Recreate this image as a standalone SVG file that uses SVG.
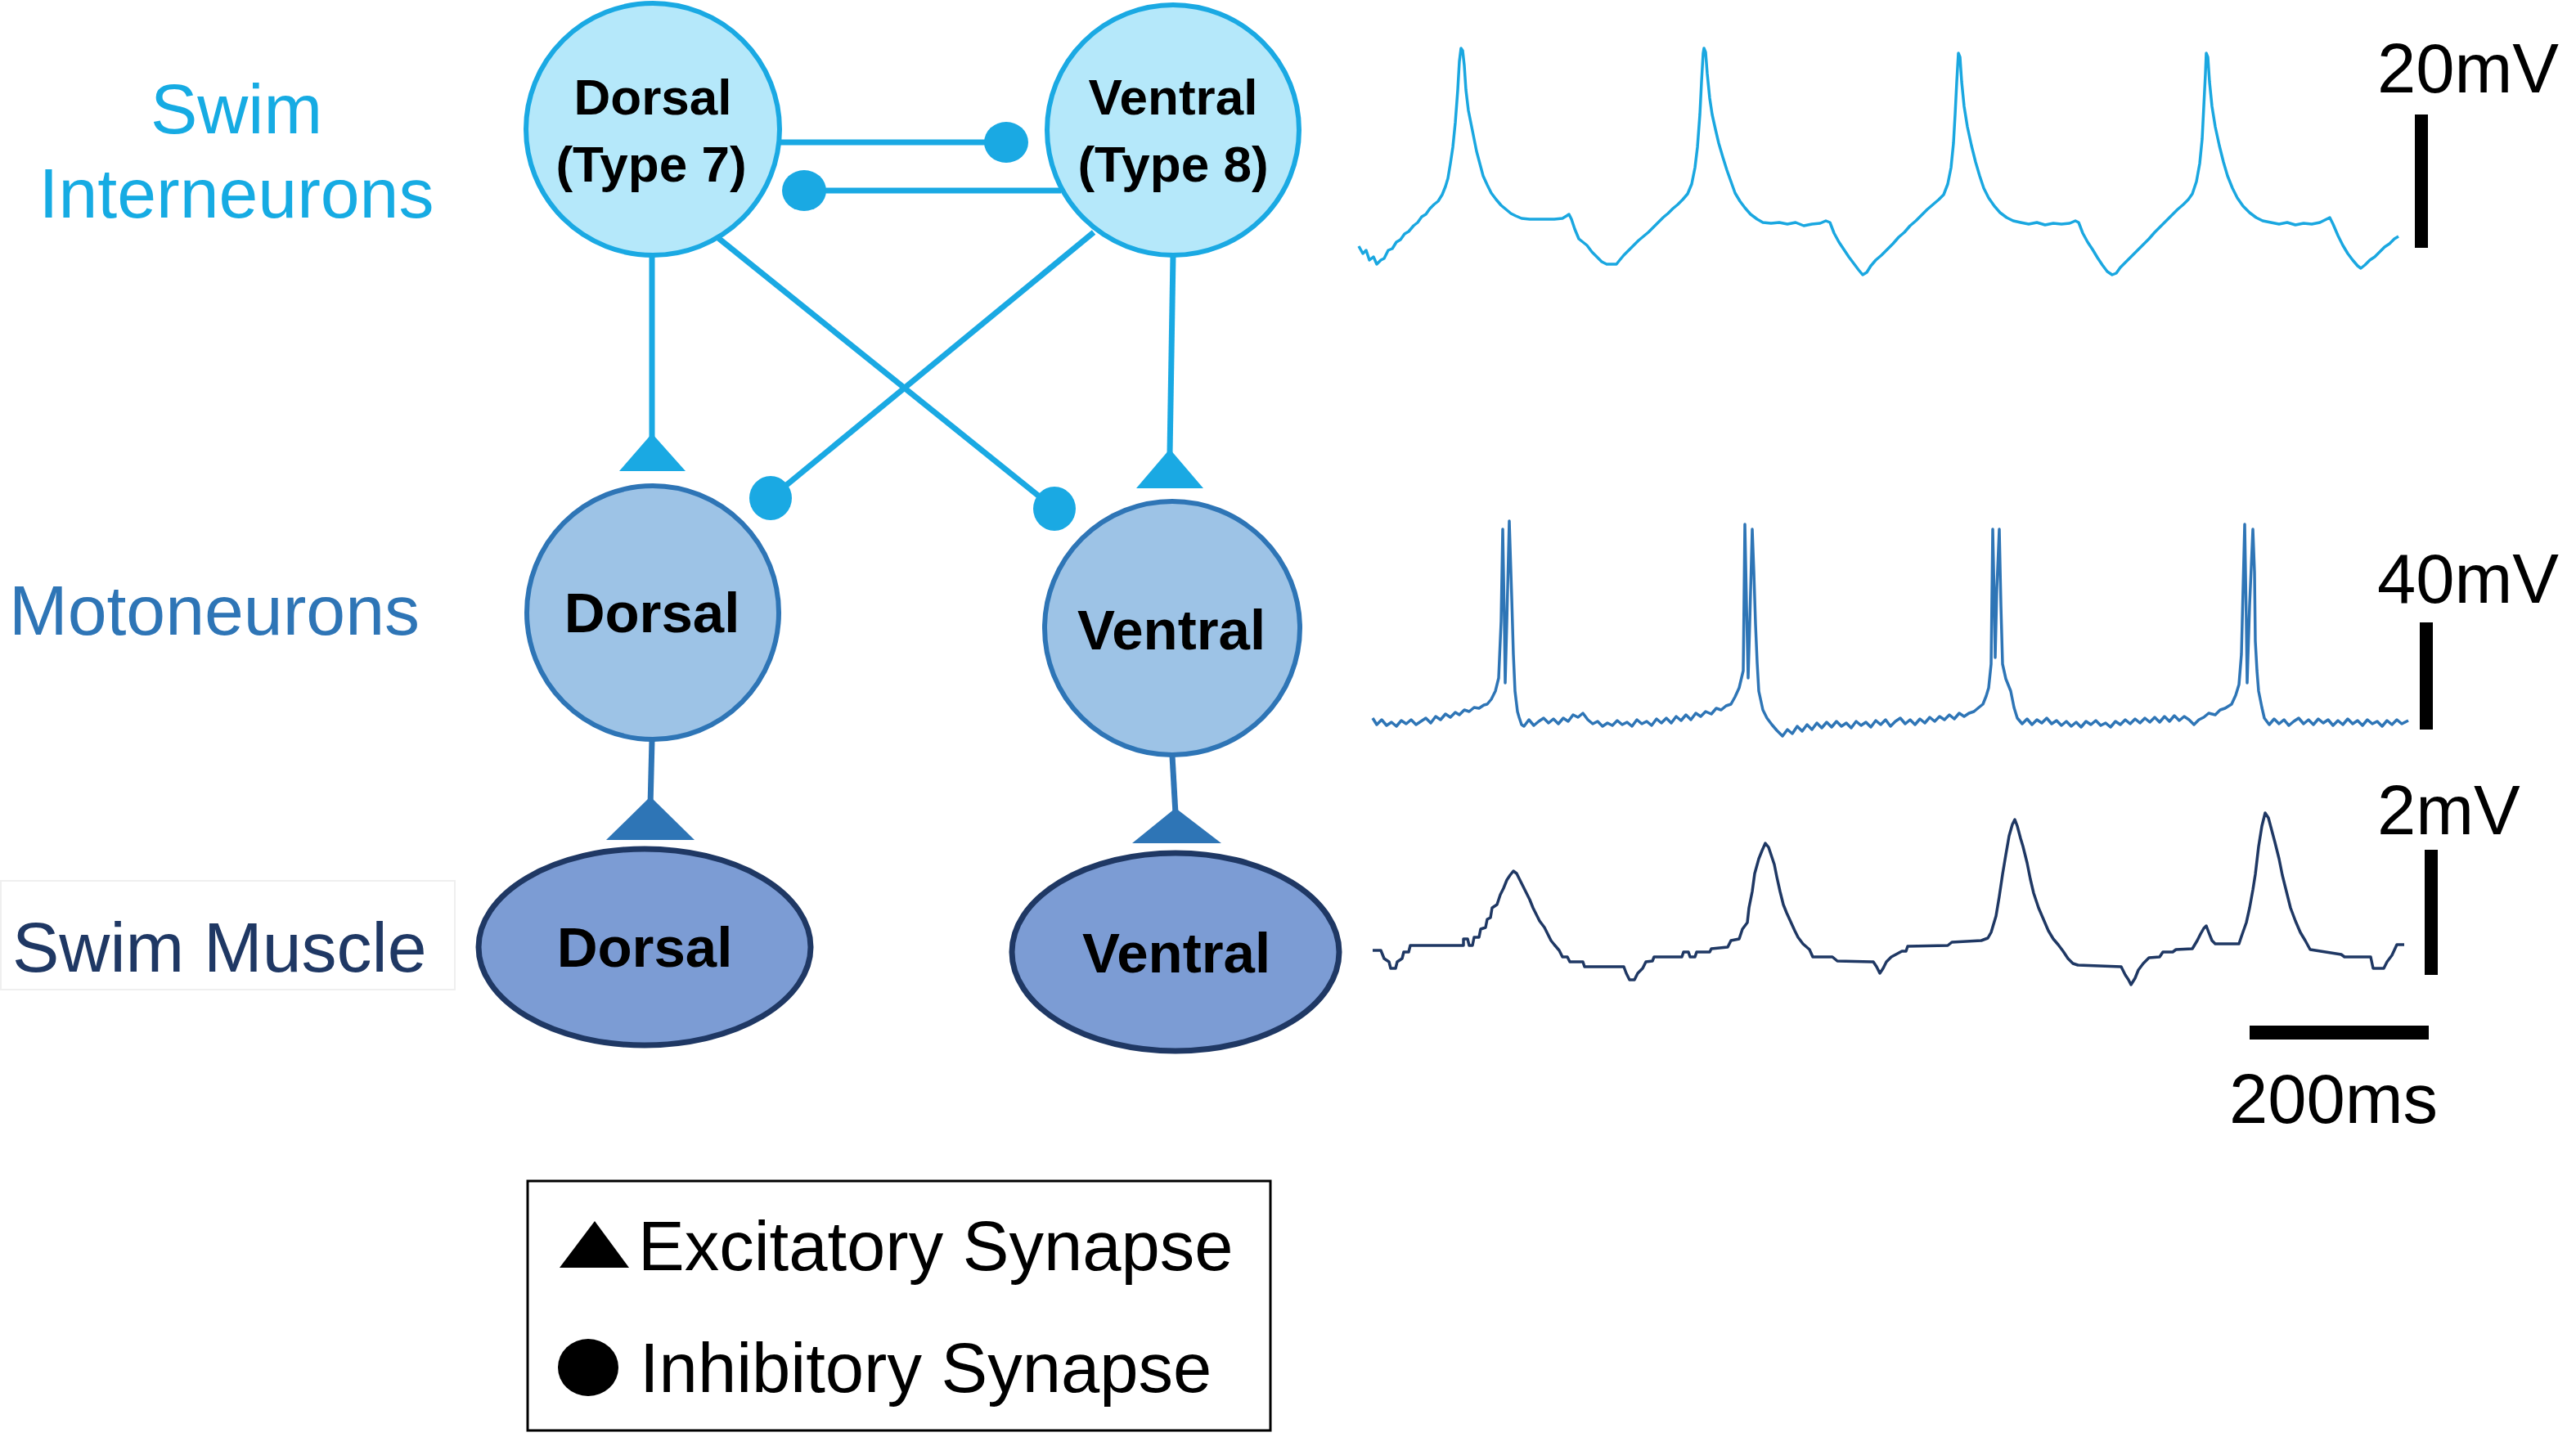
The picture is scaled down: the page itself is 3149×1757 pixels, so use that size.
<svg xmlns="http://www.w3.org/2000/svg" width="3149" height="1757" viewBox="0 0 3149 1757">
<style>
.lbl{font-family:"Liberation Sans",Arial,sans-serif;font-size:86px}
.nt{font-family:"Liberation Sans",Arial,sans-serif;font-weight:bold;fill:#000;text-anchor:middle}
.sc{font-family:"Liberation Sans",Arial,sans-serif;font-size:85px;fill:#000}
.inter{fill:#b5e8fa;stroke:#1aa9e3;stroke-width:6}
.moto{fill:#9dc3e6;stroke:#2e75b6;stroke-width:6}
.musc{fill:#7c9cd4;stroke:#1f3864;stroke-width:7}
.c1{stroke:#1aa9e3;stroke-width:7;fill:none}
.c2{stroke:#2e75b6;stroke-width:7;fill:none}
.s1{fill:#1aa9e3}
.s2{fill:#2e75b6}
.tr{fill:none;stroke-width:3.5;stroke-linejoin:round}
</style>
<rect width="3149" height="1757" fill="#fff"/>

<g id="labels">
<text class="lbl" x="289" y="163" text-anchor="middle" fill="#16abe3">Swim</text>
<text class="lbl" x="289" y="266" text-anchor="middle" fill="#16abe3">Interneurons</text>
<text class="lbl" x="11" y="776" fill="#2e75b6">Motoneurons</text>
<rect x="1" y="1077" width="555" height="133" fill="#fff" stroke="#efefef" stroke-width="2"/>
<text class="lbl" x="15" y="1188" fill="#1f3864">Swim Muscle</text>
</g>

<g id="connectors">
<line class="c1" x1="952" y1="174" x2="1230" y2="174"/>
<ellipse class="s1" cx="1230" cy="174" rx="27" ry="25"/>
<line class="c1" x1="983" y1="233" x2="1297" y2="233"/>
<ellipse class="s1" cx="983" cy="233" rx="27" ry="25"/>
<line class="c1" x1="797" y1="312" x2="797" y2="540"/>
<polygon class="s1" points="797,530 757,576 838,576"/>
<line class="c1" x1="1434" y1="312" x2="1430" y2="555"/>
<polygon class="s1" points="1430,549 1389,597 1471,597"/>
<line class="c1" x1="878" y1="291" x2="1289" y2="622"/>
<ellipse class="s1" cx="1289" cy="622" rx="26" ry="27"/>
<line class="c1" x1="1337" y1="284" x2="942" y2="609"/>
<ellipse class="s1" cx="942" cy="609" rx="26" ry="27"/>
<line class="c2" x1="797" y1="905" x2="795" y2="985"/>
<polygon class="s2" points="795,974 741,1027 849,1027"/>
<line class="c2" x1="1433" y1="924" x2="1437" y2="995"/>
<polygon class="s2" points="1437,988 1384,1031 1493,1031"/>
</g>

<g id="int-dorsal">
<ellipse class="inter" cx="798" cy="158" rx="155" ry="154"/>
<text class="nt" x="798" y="140" font-size="62">Dorsal</text>
<text class="nt" x="796" y="222" font-size="62">(Type 7)</text>
</g>
<g id="int-ventral">
<ellipse class="inter" cx="1434" cy="159" rx="154" ry="153"/>
<text class="nt" x="1434" y="140" font-size="62">Ventral</text>
<text class="nt" x="1434" y="222" font-size="62">(Type 8)</text>
</g>
<g id="moto-dorsal">
<ellipse class="moto" cx="798" cy="749" rx="154" ry="155"/>
<text class="nt" x="797" y="773" font-size="69">Dorsal</text>
</g>
<g id="moto-ventral">
<ellipse class="moto" cx="1433" cy="768" rx="156" ry="155"/>
<text class="nt" x="1432" y="794" font-size="69">Ventral</text>
</g>
<g id="muscle-dorsal">
<ellipse class="musc" cx="788" cy="1158" rx="203" ry="120"/>
<text class="nt" x="788" y="1182" font-size="69">Dorsal</text>
</g>
<g id="muscle-ventral">
<ellipse class="musc" cx="1437" cy="1164" rx="200" ry="121"/>
<text class="nt" x="1438" y="1189" font-size="69">Ventral</text>
</g>

<g id="traces">
<path class="tr" stroke="#1aa7e0" d="M1661,301 L1666,310 L1670,306 L1674,318 L1679,314 L1683,323 L1688,318 L1692,316 L1697,306 L1702,304 L1707,296 L1712,293 L1717,286 L1722,283 L1728,276 L1733,272 L1738,265 L1743,262 L1748,255 L1753,250 L1758,246 L1763,238 L1767,228 L1770,218 L1773,200 L1776,180 L1779,150 L1782,110 L1784,75 L1786,59 L1788,62 L1790,80 L1792,110 L1795,135 L1798,150 L1801,165 L1805,185 L1809,200 L1813,215 L1818,226 L1823,236 L1829,244 L1835,251 L1841,256 L1847,261 L1853,264 L1860,267 L1870,268 L1880,268 L1890,268 L1900,268 L1910,267 L1915,264 L1918,262 L1921,268 L1925,280 L1930,292 L1935,296 L1940,300 L1946,308 L1952,314 L1958,320 L1964,323 L1970,323 L1976,323 L1980,318 L1985,312 L1991,306 L1997,300 L2003,294 L2009,289 L2015,284 L2021,278 L2027,272 L2033,266 L2039,261 L2045,255 L2051,250 L2057,244 L2063,237 L2068,225 L2072,205 L2075,180 L2078,140 L2080,100 L2082,65 L2083,59 L2085,64 L2087,90 L2090,120 L2093,140 L2097,158 L2101,175 L2106,192 L2111,208 L2116,222 L2121,236 L2127,246 L2133,254 L2140,262 L2148,268 L2155,272 L2165,273 L2175,272 L2185,274 L2195,272 L2205,276 L2215,274 L2225,273 L2232,270 L2237,272 L2242,285 L2248,296 L2254,305 L2260,314 L2266,322 L2272,330 L2277,336 L2282,333 L2287,325 L2293,318 L2300,312 L2307,305 L2314,298 L2321,290 L2328,284 L2335,276 L2342,270 L2349,263 L2356,256 L2363,250 L2370,244 L2376,238 L2381,225 L2385,205 L2388,175 L2390,140 L2392,100 L2394,65 L2396,70 L2398,100 L2401,130 L2405,155 L2410,178 L2415,198 L2420,215 L2425,230 L2431,242 L2438,252 L2445,260 L2453,266 L2461,270 L2470,272 L2480,274 L2490,272 L2500,275 L2510,273 L2520,274 L2530,273 L2537,270 L2541,272 L2546,285 L2552,296 L2558,305 L2564,315 L2570,324 L2576,332 L2582,336 L2587,334 L2592,327 L2599,320 L2606,313 L2613,306 L2620,299 L2627,292 L2634,284 L2641,277 L2648,270 L2655,263 L2662,256 L2669,250 L2675,244 L2680,237 L2685,222 L2689,200 L2692,170 L2694,130 L2696,90 L2697,65 L2699,70 L2701,100 L2704,130 L2708,155 L2713,178 L2718,198 L2723,215 L2729,230 L2735,242 L2742,252 L2750,260 L2758,266 L2766,270 L2776,272 L2786,274 L2796,272 L2806,275 L2816,273 L2826,274 L2836,272 L2844,268 L2848,266 L2852,274 L2858,288 L2864,300 L2870,310 L2876,318 L2882,325 L2886,328 L2891,324 L2897,318 L2903,314 L2909,308 L2915,302 L2921,298 L2927,292 L2932,289"/>
<path class="tr" stroke="#2e75b6" d="M1678,878 L1683,886 L1689,880 L1695,887 L1701,883 L1707,888 L1713,881 L1719,885 L1725,880 L1731,886 L1737,882 L1743,878 L1749,884 L1755,876 L1761,880 L1767,873 L1773,877 L1779,871 L1784,874 L1790,868 L1796,870 L1802,865 L1808,866 L1814,862 L1818,861 L1823,855 L1828,845 L1832,829 L1835,760 L1837,647 L1839,760 L1840,835 L1842,760 L1845,637 L1847,700 L1848,731 L1850,800 L1852,845 L1855,870 L1857,877 L1860,886 L1863,888 L1869,880 L1875,887 L1881,882 L1887,878 L1893,884 L1899,879 L1905,885 L1911,878 L1917,882 L1923,874 L1929,877 L1935,872 L1941,880 L1947,885 L1953,882 L1959,888 L1965,884 L1971,887 L1977,881 L1983,886 L1989,883 L1995,888 L2001,880 L2007,885 L2013,882 L2019,887 L2025,879 L2031,884 L2037,878 L2043,884 L2049,876 L2055,881 L2061,874 L2067,880 L2073,872 L2079,876 L2085,870 L2092,873 L2098,866 L2104,868 L2110,863 L2116,861 L2121,852 L2126,841 L2131,820 L2133,641 L2135,740 L2137,829 L2139,760 L2142,647 L2144,700 L2146,763 L2148,810 L2150,845 L2155,868 L2160,878 L2166,886 L2172,893 L2179,900 L2185,892 L2191,897 L2197,888 L2203,894 L2209,886 L2215,892 L2221,884 L2227,890 L2233,883 L2239,889 L2245,882 L2251,888 L2257,884 L2263,890 L2269,882 L2275,887 L2281,883 L2287,889 L2293,881 L2299,886 L2305,880 L2311,888 L2317,882 L2323,878 L2329,885 L2335,880 L2341,886 L2347,879 L2353,884 L2359,877 L2365,882 L2371,876 L2377,880 L2383,874 L2389,879 L2395,872 L2401,876 L2407,872 L2413,870 L2419,865 L2424,861 L2428,851 L2431,841 L2434,812 L2436,647 L2438,740 L2439,804 L2441,720 L2444,647 L2446,740 L2448,812 L2452,830 L2458,845 L2462,865 L2466,878 L2472,885 L2478,879 L2484,886 L2490,880 L2496,884 L2502,878 L2508,885 L2514,881 L2520,887 L2526,882 L2532,888 L2538,883 L2544,889 L2550,882 L2556,886 L2562,881 L2568,887 L2574,884 L2580,889 L2586,882 L2592,886 L2598,880 L2604,885 L2610,879 L2616,884 L2622,878 L2628,883 L2634,877 L2640,883 L2646,876 L2652,882 L2658,875 L2664,881 L2670,876 L2676,880 L2682,886 L2688,880 L2694,877 L2700,872 L2708,874 L2714,868 L2720,866 L2728,861 L2733,850 L2737,837 L2740,800 L2744,641 L2746,760 L2747,835 L2750,740 L2754,647 L2756,700 L2757,784 L2759,820 L2761,845 L2765,865 L2768,878 L2774,886 L2780,879 L2786,885 L2792,880 L2798,887 L2804,882 L2810,878 L2816,885 L2822,880 L2828,886 L2834,879 L2840,884 L2846,880 L2852,887 L2858,881 L2864,886 L2870,879 L2876,885 L2882,881 L2888,887 L2894,880 L2900,885 L2906,882 L2912,888 L2918,881 L2924,886 L2930,880 L2936,885 L2944,881"/>
<path class="tr" stroke="#1f3864" d="M1678,1162 L1688,1162 L1692,1172 L1698,1176 L1700,1184 L1706,1184 L1708,1176 L1714,1172 L1716,1164 L1722,1164 L1724,1156 L1789,1156 L1789,1148 L1794,1148 L1796,1156 L1800,1156 L1802,1146 L1808,1146 L1810,1136 L1816,1134 L1818,1124 L1822,1122 L1824,1110 L1830,1106 L1834,1094 L1838,1086 L1842,1076 L1846,1070 L1850,1065 L1854,1068 L1858,1076 L1862,1084 L1866,1092 L1870,1100 L1874,1110 L1878,1118 L1882,1126 L1888,1134 L1892,1142 L1896,1150 L1900,1155 L1906,1162 L1910,1170 L1916,1170 L1919,1176 L1935,1176 L1937,1182 L1985,1182 L1988,1190 L1992,1198 L1998,1198 L2002,1190 L2008,1184 L2012,1176 L2020,1175 L2022,1170 L2056,1170 L2058,1164 L2064,1164 L2066,1170 L2072,1170 L2074,1164 L2090,1164 L2092,1160 L2112,1158 L2116,1150 L2126,1148 L2130,1136 L2136,1128 L2138,1110 L2142,1090 L2145,1068 L2150,1050 L2154,1040 L2158,1031 L2162,1036 L2166,1048 L2169,1057 L2172,1072 L2176,1090 L2180,1106 L2184,1116 L2189,1127 L2194,1138 L2198,1146 L2204,1154 L2212,1161 L2216,1170 L2240,1170 L2246,1175 L2290,1176 L2294,1182 L2298,1190 L2302,1184 L2306,1176 L2312,1170 L2325,1163 L2330,1163 L2332,1157 L2381,1156 L2386,1152 L2422,1150 L2430,1147 L2434,1140 L2440,1120 L2444,1096 L2448,1069 L2452,1045 L2456,1022 L2460,1008 L2463,1002 L2466,1010 L2470,1025 L2473,1035 L2478,1055 L2482,1075 L2486,1092 L2492,1110 L2498,1124 L2504,1138 L2510,1148 L2516,1155 L2522,1163 L2528,1172 L2534,1178 L2540,1180 L2593,1182 L2598,1192 L2602,1198 L2605,1204 L2610,1196 L2614,1186 L2620,1178 L2627,1171 L2640,1170 L2644,1164 L2656,1164 L2660,1161 L2680,1160 L2686,1150 L2690,1142 L2694,1135 L2697,1132 L2700,1140 L2704,1150 L2708,1154 L2737,1154 L2740,1145 L2746,1128 L2750,1110 L2754,1088 L2757,1069 L2761,1035 L2765,1010 L2769,994 L2773,1000 L2777,1015 L2781,1030 L2786,1050 L2790,1070 L2795,1090 L2800,1110 L2806,1126 L2812,1140 L2818,1150 L2824,1161 L2862,1167 L2866,1170 L2898,1170 L2901,1184 L2914,1184 L2918,1176 L2924,1168 L2930,1155 L2939,1155"/>
</g>

<g id="scalebars">
<rect x="2952" y="140" width="16" height="163" fill="#000"/>
<text class="sc" x="2906" y="113">20mV</text>
<rect x="2958" y="761" width="16" height="131" fill="#000"/>
<text class="sc" x="2906" y="737">40mV</text>
<rect x="2964" y="1039" width="16" height="153" fill="#000"/>
<text class="sc" x="2906" y="1020">2mV</text>
<rect x="2750" y="1254" width="219" height="17" fill="#000"/>
<text class="sc" x="2725" y="1373">200ms</text>
</g>

<g id="legend">
<rect x="645" y="1444" width="908" height="305" fill="#fff" stroke="#000" stroke-width="3"/>
<polygon points="727,1493 684,1550 769,1550" fill="#000"/>
<text class="sc" x="780" y="1553" font-size="84">Excitatory Synapse</text>
<ellipse cx="719" cy="1672" rx="37" ry="35" fill="#000"/>
<text class="sc" x="782" y="1702">Inhibitory Synapse</text>
</g>
</svg>
